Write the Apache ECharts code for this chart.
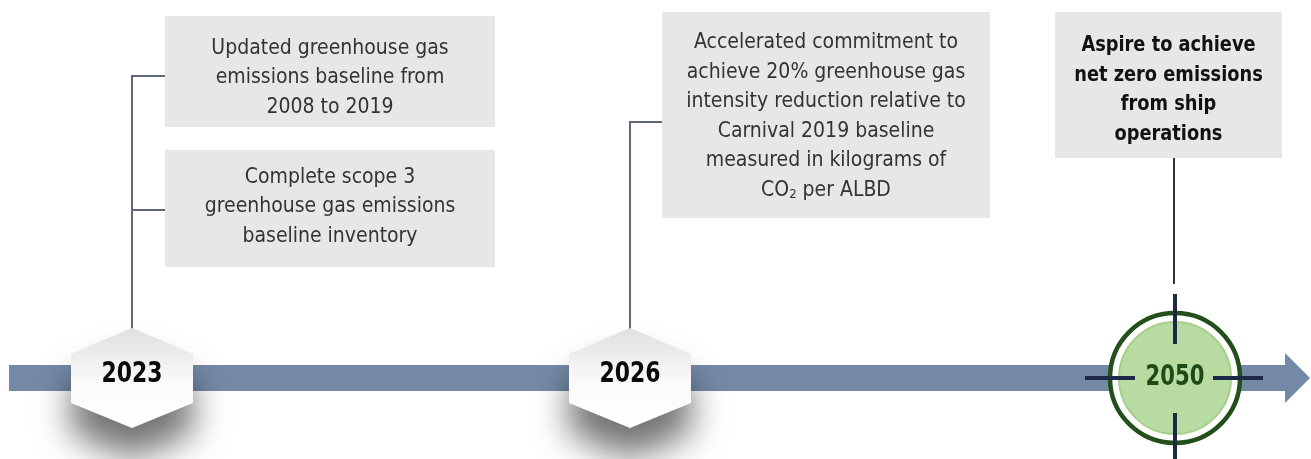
<!DOCTYPE html>
<html>
<head>
<meta charset="utf-8">
<script src="https://cdn.jsdelivr.net/npm/echarts@6/dist/echarts.min.js"></script>
<style>
html,body{margin:0;padding:0;background:#fff;}
#chart{width:1311px;height:459px;}
</style>
</head>
<body>
<div id="chart"></div>
<script>
// ---- data ----
const years = ['2023', '2026', '2050'];
const milestoneTexts = [
  ['Updated greenhouse gas\nemissions baseline from\n2008 to 2019',
   'Complete scope 3\ngreenhouse gas emissions\nbaseline inventory'],
  ['Accelerated commitment to\nachieve 20% greenhouse gas\nintensity reduction relative to\nCarnival 2019 baseline\nmeasured in kilograms of\nCO{sub|2} per ALBD'],
  ['Aspire to achieve\nnet zero emissions\nfrom ship\noperations']
];
const milestoneKinds = ['hex', 'hex', 'target'];

// ---- layout (in the hidden axis units) ----
const layout = [
  { x: 132, boxes: [
      { x0: 165, x1: 495, y0: 16, y1: 127, ty: 78, ly: 76 },
      { x0: 165, x1: 495, y0: 150, y1: 267, ty: 207, ly: 210 } ] },
  { x: 630, boxes: [
      { x0: 662, x1: 990, y0: 12, y1: 218, ty: 116.5, ly: 122 } ] },
  { x: 1174, boxes: [
      { x0: 1055, x1: 1282, y0: 12, y1: 158, ty: 90 } ] }
];
const axisY = 378;
const FONT = '"Liberation Sans Narrow", "DejaVu Sans Condensed", "Roboto", sans-serif';

const chart = echarts.init(document.getElementById('chart'), null, { renderer: 'canvas' });

function arrowRender(params, api) {
  const pts = [[9, 365], [1285, 365], [1285, 353], [1310, 378], [1285, 403], [1285, 391], [9, 391]]
    .map(p => api.coord(p));
  return { type: 'polygon', shape: { points: pts }, style: { fill: '#7489a6' }, z2: 1 };
}

function milestoneRender(params, api) {
  const i = api.value(0);
  const L = layout[i];
  const kind = milestoneKinds[i];
  const children = [];
  const c = api.coord([L.x, axisY]);
  const lineColor = '#5f6677';

  // boxes
  L.boxes.forEach((b, k) => {
    const p0 = api.coord([b.x0, b.y0]);
    const p1 = api.coord([b.x1, b.y1]);
    children.push({ type: 'rect', shape: { x: p0[0], y: p0[1], width: p1[0] - p0[0], height: p1[1] - p0[1] },
      style: { fill: '#e7e7e7' } });
    const tp = api.coord([(b.x0 + b.x1) / 2, b.ty]);
    const bold = kind === 'target';
    children.push({ type: 'text', x: tp[0], y: tp[1], scaleX: bold ? 0.92 : 1,
      style: { text: milestoneTexts[i][k], fontFamily: FONT, fontSize: bold ? 21.5 : 21,
        fontWeight: bold ? 'bold' : 'normal', fill: bold ? '#111' : '#333', lineHeight: 29.5,
        align: 'center', verticalAlign: 'middle',
        rich: { sub: { fontSize: 13, fontFamily: FONT, fill: '#333', padding: [9, 0, 0, 0], lineHeight: 29.5 } } } });
    if (kind === 'hex') {
      const a = api.coord([L.x, b.ly]);
      const bb = api.coord([b.x0, b.ly]);
      children.push({ type: 'line', shape: { x1: a[0], y1: a[1], x2: bb[0], y2: bb[1] },
        style: { stroke: lineColor, lineWidth: 2 } });
    }
  });

  if (kind === 'hex') {
    const topY = L.boxes[0].ly;
    const a = api.coord([L.x, topY]);
    const b = api.coord([L.x, 330]);
    children.push({ type: 'line', shape: { x1: a[0], y1: a[1] - 1, x2: b[0], y2: b[1] },
      style: { stroke: lineColor, lineWidth: 2 } });
    const hex = [[0, -50], [61, -24], [61, 25], [0, 50], [-61, 25], [-61, -24]]
      .map(d => api.coord([L.x + d[0], axisY + d[1]]));
    children.push({ type: 'polygon', shape: { points: hex },
      style: { fill: new echarts.graphic.LinearGradient(0, 0, 0, 1, [
          { offset: 0, color: '#e0e0e0' }, { offset: 0.55, color: '#fafafa' }, { offset: 1, color: '#ffffff' }]),
        shadowBlur: 34, shadowOffsetY: 30, shadowColor: 'rgba(0,0,0,0.55)' } });
    children.push({ type: 'text', x: c[0], y: c[1] - 4, scaleX: 0.84,
      style: { text: years[i], fontFamily: FONT, fontSize: 29, fontWeight: 'bold', fill: '#0a0a0a',
        align: 'center', verticalAlign: 'middle' } });
  } else {
    const b0 = L.boxes[0];
    const a = api.coord([L.x, b0.y1]);
    const b = api.coord([L.x, 284]);
    children.push({ type: 'line', shape: { x1: a[0], y1: a[1], x2: b[0], y2: b[1] },
      style: { stroke: '#333', lineWidth: 2 } });
    const cx = c[0] + 1, cy = c[1];
    children.push({ type: 'circle', shape: { cx: cx, cy: cy, r: 65 },
      style: { fill: '#ffffff', stroke: '#23501a', lineWidth: 4.5 } });
    children.push({ type: 'circle', shape: { cx: cx, cy: cy, r: 56 },
      style: { fill: '#b7dba0', stroke: '#a5d08c', lineWidth: 2 } });
    const cross = '#1c2a45';
    [[cx, cy - 84, cx, cy - 34], [cx, cy + 35, cx, cy + 82], [cx - 90, cy, cx - 40, cy], [cx + 38, cy, cx + 88, cy]]
      .forEach(s => children.push({ type: 'line', shape: { x1: s[0], y1: s[1], x2: s[2], y2: s[3] },
        style: { stroke: cross, lineWidth: 4 } }));
    children.push({ type: 'text', x: cx, y: cy, scaleX: 0.84,
      style: { text: years[i], fontFamily: FONT, fontSize: 28, fontWeight: 'bold', fill: '#1f4a16',
        align: 'center', verticalAlign: 'middle' } });
  }
  return { type: 'group', children: children };
}

chart.setOption({
  animation: false,
  grid: { left: 0, right: 0, top: 0, bottom: 0 },
  xAxis: { type: 'value', min: 0, max: 1311, show: false },
  yAxis: { type: 'value', min: 0, max: 459, inverse: true, show: false },
  series: [
    { type: 'custom', renderItem: arrowRender, data: [[0]], z: 1, silent: true },
    { type: 'custom', renderItem: milestoneRender, data: years.map((y, i) => [i]), z: 2, silent: true }
  ]
});
</script>
</body>
</html>
